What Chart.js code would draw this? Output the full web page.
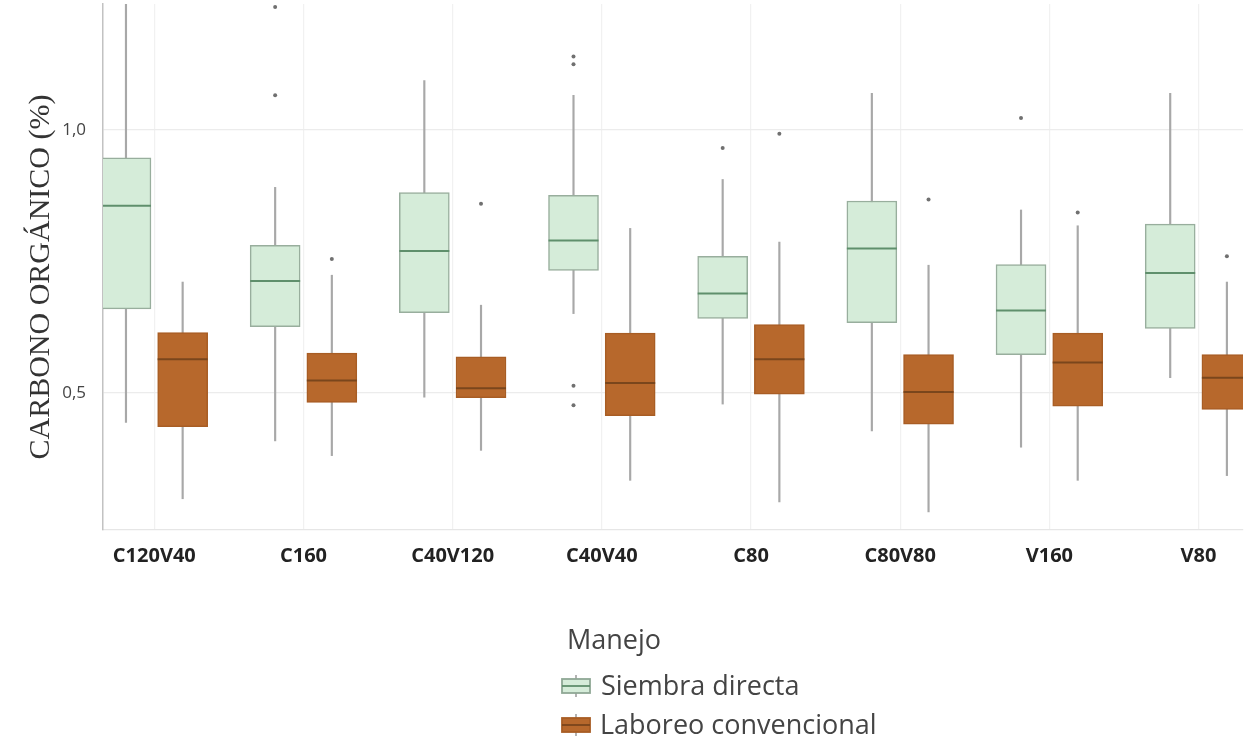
<!DOCTYPE html>
<html>
<head>
<meta charset="utf-8">
<script src="https://cdn.jsdelivr.net/npm/chart.js@4.4.1/dist/chart.umd.min.js"></script>
<style>
  html, body { margin: 0; padding: 0; background: #ffffff; }
  #wrap { position: relative; width: 1247px; height: 739px; overflow: hidden; }
  #chart { position: absolute; left: 0; top: 0; }
  .lg { position: absolute; font-family: "Open Sans", "Noto Sans", sans-serif; color: #444; font-size: 27px; line-height: 34px; white-space: nowrap; }
  .ico { position: absolute; }
</style>
</head>
<body>
<div id="wrap">
  <canvas id="chart" width="1247" height="739"></canvas>
  <div class="lg" style="left:567px; top:622px;">Manejo</div>
  <svg class="ico" style="left:561px; top:675px;" width="30" height="22" viewBox="0 0 30 22">
    <line x1="15" y1="0" x2="15" y2="22" stroke="#9a9a9a" stroke-width="1.5"/>
    <rect x="1" y="4" width="28" height="14" fill="#d5ecd9" stroke="#8fa895" stroke-width="1.8"/>
    <line x1="1" y1="11" x2="29" y2="11" stroke="#5f8f6c" stroke-width="1.8"/>
  </svg>
  <div class="lg" style="left:601px; top:668px;">Siembra directa</div>
  <svg class="ico" style="left:561px; top:714px;" width="30" height="22" viewBox="0 0 30 22">
    <line x1="15" y1="0" x2="15" y2="22" stroke="#9a9a9a" stroke-width="1.5"/>
    <rect x="1" y="4" width="28" height="14" fill="#b7682c" stroke="#a85d24" stroke-width="1.8"/>
    <line x1="1" y1="11" x2="29" y2="11" stroke="#7a461c" stroke-width="1.8"/>
  </svg>
  <div class="lg" style="left:600px; top:707px;">Laboreo convencional</div>
</div>
<script>
// ---- data ----
const categories = ['C120V40', 'C160', 'C40V120', 'C40V40', 'C80', 'C80V80', 'V160', 'V80'];

// Siembra directa
const sdMin    = [0.444, 0.409, 0.492, 0.651, 0.479, 0.428, 0.397, 0.529];
const sdQ1     = [0.660, 0.626, 0.653, 0.733, 0.642, 0.634, 0.573, 0.623];
const sdMedian = [0.856, 0.713, 0.770, 0.790, 0.689, 0.775, 0.657, 0.728];
const sdQ3     = [0.947, 0.781, 0.881, 0.876, 0.760, 0.865, 0.744, 0.821];
const sdMax    = [1.300, 0.891, 1.094, 1.066, 0.906, 1.070, 0.848, 1.070];
const sdOutliers = [[], [1.066, 1.234], [], [0.477, 0.514, 1.125, 1.140], [0.966], [], [1.023], []];

// Laboreo convencional
const lcMin    = [0.299, 0.381, 0.391, 0.334, 0.293, 0.274, 0.334, 0.343];
const lcQ1     = [0.436, 0.482, 0.491, 0.457, 0.498, 0.441, 0.475, 0.469];
const lcMedian = [0.564, 0.524, 0.509, 0.519, 0.564, 0.502, 0.558, 0.529];
const lcQ3     = [0.615, 0.576, 0.569, 0.614, 0.630, 0.573, 0.614, 0.573];
const lcMax    = [0.711, 0.724, 0.667, 0.813, 0.787, 0.743, 0.818, 0.711];
const lcOutliers = [[], [0.755], [0.860], [], [0.221, 0.993], [0.868], [0.843], [0.760]];

const yTickValues = [0.5, 1.0];
const yAxisTitle = 'CARBONO ORGÁNICO (%)';

// ---- presentation ----
const GROUP_OFFSET = 0.19;
const SD_FILL = '#d5ecd9', SD_LINE = '#98ae9d', SD_MED = '#5f8f6c';
const LC_FILL = '#b7682c', LC_LINE = '#a85d24', LC_MED = '#7a461c';
const WHISKER = '#a8a8a8';

function boxData(q1, q3, off) { return categories.map((c, i) => ({ x: i + off, y: [q1[i], q3[i]] })); }
function outlierData(list, off) {
  const pts = [];
  list.forEach((vals, i) => vals.forEach(v => pts.push({ x: i + off, y: v })));
  return pts;
}

const medianPlugin = {
  id: 'medianLines',
  afterDatasetsDraw(chart) {
    const ctx = chart.ctx;
    const yScale = chart.scales.y;
    const area = chart.chartArea;
    [[2, sdMedian, SD_MED], [3, lcMedian, LC_MED]].forEach(([dsIndex, med, color]) => {
      const meta = chart.getDatasetMeta(dsIndex);
      ctx.save();
      ctx.beginPath();
      ctx.rect(area.left, area.top, area.right - area.left, area.bottom - area.top);
      ctx.clip();
      ctx.strokeStyle = color;
      ctx.lineWidth = 2;
      meta.data.forEach((bar, i) => {
        const half = bar.width / 2;
        const y = yScale.getPixelForValue(med[i]);
        ctx.beginPath();
        ctx.moveTo(bar.x - half, y);
        ctx.lineTo(bar.x + half, y);
        ctx.stroke();
      });
      ctx.restore();
    });
  }
};

const yTitlePlugin = {
  id: 'yTitle',
  afterDraw(chart) {
    const ctx = chart.ctx;
    ctx.save();
    ctx.translate(41, 277);
    ctx.rotate(-Math.PI / 2);
    ctx.fillStyle = '#333';
    ctx.font = '30px "Liberation Serif", "DejaVu Serif", serif';
    ctx.textAlign = 'center';
    ctx.textBaseline = 'middle';
    ctx.fillText(yAxisTitle, 0, 0);
    ctx.restore();
  }
};

new Chart(document.getElementById('chart'), {
  type: 'bar',
  data: {
    datasets: [
      { label: 'sd-whisker', data: boxData(sdMin, sdMax, -GROUP_OFFSET), backgroundColor: WHISKER,
        barThickness: 1.5, grouped: false, order: 5 },
      { label: 'lc-whisker', data: boxData(lcMin, lcMax, GROUP_OFFSET), backgroundColor: WHISKER,
        barThickness: 1.5, grouped: false, order: 5 },
      { label: 'Siembra directa', data: boxData(sdQ1, sdQ3, -GROUP_OFFSET), backgroundColor: SD_FILL,
        borderColor: SD_LINE, borderWidth: 1.5, borderSkipped: false, barThickness: 50, grouped: false, order: 3 },
      { label: 'Laboreo convencional', data: boxData(lcQ1, lcQ3, GROUP_OFFSET), backgroundColor: LC_FILL,
        borderColor: LC_LINE, borderWidth: 1.5, borderSkipped: false, barThickness: 50, grouped: false, order: 3 },
      { type: 'scatter', label: 'sd-out', data: outlierData(sdOutliers, -GROUP_OFFSET), pointRadius: 2,
        backgroundColor: '#707070', borderWidth: 0, order: 1, clip: false },
      { type: 'scatter', label: 'lc-out', data: outlierData(lcOutliers, GROUP_OFFSET), pointRadius: 2,
        backgroundColor: '#707070', borderWidth: 0, order: 1, clip: false }
    ]
  },
  options: {
    responsive: false,
    animation: false,
    events: [],
    layout: { padding: { left: 0, right: 0, top: 0, bottom: 149 } },
    plugins: { legend: { display: false }, tooltip: { enabled: false }, title: { display: false } },
    scales: {
      x: {
        type: 'linear',
        min: -0.344,
        max: 7.298,
        offset: false,
        grid: { color: '#f1f1f1', lineWidth: 1.2, drawTicks: false, offset: false },
        border: { display: true, color: '#e6e6e6', width: 1.2 },
        afterBuildTicks: s => { s.ticks = categories.map((c, i) => ({ value: i })); },
        afterFit: s => { s.height = 60; s.paddingLeft = 0; s.paddingRight = 0; },
        ticks: {
          autoSkip: false, maxRotation: 0, padding: 14, color: '#222',
          font: { family: '"Open Sans", "Noto Sans", sans-serif', size: 20, weight: 'bold' },
          callback: v => categories[v]
        }
      },
      y: {
        min: 0.2396,
        max: 1.2396,
        grid: { color: '#ececec', lineWidth: 1.2, drawTicks: false },
        border: { display: true, color: '#c2c2c2', width: 1.5 },
        afterBuildTicks: s => { s.ticks = yTickValues.map(v => ({ value: v })); },
        afterFit: s => { s.width = 103; s.paddingTop = 0; s.paddingBottom = 0; },
        ticks: {
          padding: 17, color: '#444',
          font: { family: '"Open Sans", "Noto Sans", sans-serif', size: 17 },
          callback: v => v.toFixed(1).replace('.', ',')
        }
      }
    }
  },
  plugins: [medianPlugin, yTitlePlugin]
});
</script>
</body>
</html>
